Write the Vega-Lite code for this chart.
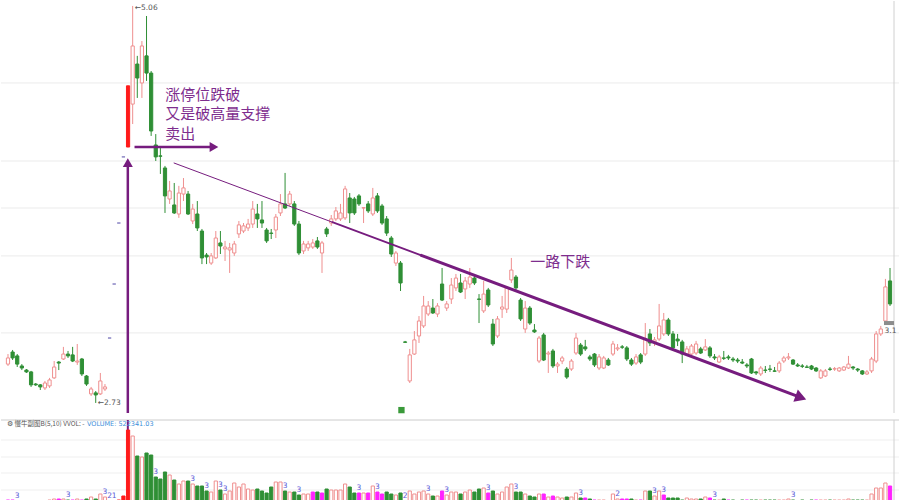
{
"$schema":"https://vega.github.io/schema/vega-lite/v6.json",
"padding":0,"spacing":4,"background":"white",
"config":{"view":{"stroke":null},"axis":{"disable":true},"font":"Noto Sans CJK SC"},
"datasets":{
"one":[{}],
"grid":[{"p":4.608},{"p":4.150},{"p":3.874},{"p":3.593},{"p":3.141}],
"vgrid":[{"v":63},{"v":46},{"v":30},{"v":13}],
"k":[
{"i":0,"o":2.958,"h":3.017,"l":2.947,"c":2.994,"v":3,"m":1},
{"i":1,"o":3.029,"h":3.041,"l":2.982,"c":2.994,"v":3,"m":1},
{"i":2,"o":3.006,"h":3.017,"l":2.941,"c":2.958,"v":2,"lb":"3"},
{"i":3,"o":2.947,"h":2.958,"l":2.923,"c":2.935,"v":2},
{"i":4,"o":2.923,"h":2.929,"l":2.906,"c":2.912,"v":2,"m":1},
{"i":5,"o":2.912,"h":2.918,"l":2.824,"c":2.836,"v":2,"m":1},
{"i":6,"o":2.841,"h":2.847,"l":2.830,"c":2.836,"v":1.5},
{"i":7,"o":2.836,"h":2.841,"l":2.806,"c":2.824,"v":1.5},
{"i":8,"o":2.818,"h":2.859,"l":2.806,"c":2.847,"v":1.5},
{"i":9,"o":2.830,"h":2.877,"l":2.818,"c":2.865,"v":3},
{"i":10,"o":2.877,"h":2.976,"l":2.871,"c":2.941,"v":4},
{"i":11,"o":2.970,"h":2.976,"l":2.923,"c":2.964,"v":4,"m":1},
{"i":12,"o":2.988,"h":3.059,"l":2.982,"c":3.017,"v":4},
{"i":13,"o":3.017,"h":3.035,"l":2.994,"c":3.006,"v":3,"lb":"3"},
{"i":14,"o":3.012,"h":3.059,"l":2.970,"c":2.976,"v":3,"m":1},
{"i":15,"o":2.970,"h":3.076,"l":2.953,"c":2.976,"v":4},
{"i":16,"o":2.988,"h":2.994,"l":2.888,"c":2.900,"v":3,"m":1},
{"i":17,"o":2.888,"h":2.894,"l":2.830,"c":2.841,"v":4},
{"i":18,"o":2.783,"h":2.824,"l":2.771,"c":2.812,"v":6},
{"i":19,"o":2.789,"h":2.800,"l":2.730,"c":2.777,"v":4},
{"i":20,"o":2.783,"h":2.906,"l":2.777,"c":2.859,"v":9},
{"i":21,"o":2.812,"h":2.841,"l":2.800,"c":2.824,"v":6,"lb":"3"},
{"i":22,"o":3.111,"h":3.111,"l":3.111,"c":3.111,"v":2,"lb":"2","lu":1},
{"i":23,"o":3.428,"h":3.428,"l":3.428,"c":3.428,"v":2,"lb":"1","lu":1},
{"i":24,"o":3.786,"h":3.786,"l":3.786,"c":3.786,"v":3,"lu":1},
{"i":25,"o":4.174,"h":4.174,"l":4.174,"c":4.174,"v":7,"lu":1},
{"i":26,"o":4.232,"h":4.591,"l":4.232,"c":4.591,"v":73,"lu":1},
{"i":27,"o":4.484,"h":5.060,"l":4.367,"c":4.825,"v":67},
{"i":28,"o":4.719,"h":4.767,"l":4.520,"c":4.637,"v":47},
{"i":29,"o":4.608,"h":4.854,"l":4.520,"c":4.825,"v":46},
{"i":30,"o":4.767,"h":5.001,"l":4.620,"c":4.666,"v":50},
{"i":31,"o":4.666,"h":4.678,"l":4.297,"c":4.326,"v":48},
{"i":32,"o":4.244,"h":4.308,"l":4.150,"c":4.174,"v":26,"lb":"3"},
{"i":33,"o":4.180,"h":4.226,"l":4.074,"c":4.178,"v":24},
{"i":34,"o":4.109,"h":4.121,"l":3.845,"c":3.945,"v":31},
{"i":35,"o":3.927,"h":4.033,"l":3.898,"c":3.974,"v":28},
{"i":36,"o":3.892,"h":4.021,"l":3.839,"c":3.845,"v":23},
{"i":37,"o":3.839,"h":4.004,"l":3.816,"c":3.962,"v":19},
{"i":38,"o":3.956,"h":4.050,"l":3.915,"c":3.992,"v":22},
{"i":39,"o":3.956,"h":3.974,"l":3.833,"c":3.839,"v":22},
{"i":40,"o":3.798,"h":3.898,"l":3.780,"c":3.868,"v":19,"lb":"3"},
{"i":41,"o":3.839,"h":3.915,"l":3.739,"c":3.757,"v":17},
{"i":42,"o":3.739,"h":3.751,"l":3.545,"c":3.581,"v":17},
{"i":43,"o":3.598,"h":3.610,"l":3.545,"c":3.587,"v":12,"lb":"3"},
{"i":44,"o":3.551,"h":3.610,"l":3.540,"c":3.593,"v":11},
{"i":45,"o":3.581,"h":3.739,"l":3.575,"c":3.698,"v":22},
{"i":46,"o":3.669,"h":3.739,"l":3.604,"c":3.651,"v":13,"lb":"3"},
{"i":47,"o":3.634,"h":3.681,"l":3.563,"c":3.645,"v":9,"lb":"3"},
{"i":48,"o":3.628,"h":3.669,"l":3.493,"c":3.640,"v":12},
{"i":49,"o":3.610,"h":3.681,"l":3.593,"c":3.663,"v":20},
{"i":50,"o":3.722,"h":3.798,"l":3.698,"c":3.775,"v":16},
{"i":51,"o":3.739,"h":3.786,"l":3.727,"c":3.769,"v":19},
{"i":52,"o":3.757,"h":3.810,"l":3.739,"c":3.780,"v":14},
{"i":53,"o":3.780,"h":3.915,"l":3.757,"c":3.868,"v":13},
{"i":54,"o":3.839,"h":3.898,"l":3.757,"c":3.810,"v":14},
{"i":55,"o":3.804,"h":3.915,"l":3.757,"c":3.786,"v":12},
{"i":56,"o":3.745,"h":3.757,"l":3.669,"c":3.681,"v":10},
{"i":57,"o":3.727,"h":3.751,"l":3.692,"c":3.725,"v":16},
{"i":58,"o":3.745,"h":3.839,"l":3.698,"c":3.821,"v":21},
{"i":59,"o":3.845,"h":3.956,"l":3.827,"c":3.898,"v":21},
{"i":60,"o":3.898,"h":4.080,"l":3.868,"c":3.874,"v":12,"lb":"3"},
{"i":61,"o":3.898,"h":3.974,"l":3.886,"c":3.956,"v":11},
{"i":62,"o":3.898,"h":3.915,"l":3.769,"c":3.780,"v":11},
{"i":63,"o":3.780,"h":3.798,"l":3.598,"c":3.610,"v":8,"lb":"3"},
{"i":64,"o":3.622,"h":3.681,"l":3.604,"c":3.663,"v":9},
{"i":65,"o":3.640,"h":3.681,"l":3.622,"c":3.663,"v":9},
{"i":66,"o":3.645,"h":3.692,"l":3.634,"c":3.669,"v":11,"m":1},
{"i":67,"o":3.681,"h":3.704,"l":3.634,"c":3.645,"v":11},
{"i":68,"o":3.610,"h":3.681,"l":3.493,"c":3.669,"v":10,"m":1},
{"i":69,"o":3.751,"h":3.763,"l":3.704,"c":3.722,"v":14},
{"i":70,"o":3.786,"h":3.833,"l":3.769,"c":3.810,"v":13},
{"i":71,"o":3.810,"h":3.880,"l":3.798,"c":3.857,"v":13},
{"i":72,"o":3.810,"h":3.898,"l":3.798,"c":3.845,"v":13},
{"i":73,"o":3.816,"h":4.004,"l":3.804,"c":3.986,"v":19},
{"i":74,"o":3.933,"h":3.962,"l":3.786,"c":3.845,"v":16},
{"i":75,"o":3.927,"h":3.939,"l":3.833,"c":3.845,"v":10},
{"i":76,"o":3.945,"h":3.956,"l":3.886,"c":3.898,"v":10,"m":1,"lb":"3"},
{"i":77,"o":3.874,"h":3.880,"l":3.786,"c":3.876,"v":10},
{"i":78,"o":3.898,"h":3.915,"l":3.845,"c":3.857,"v":10,"m":1},
{"i":79,"o":3.839,"h":3.992,"l":3.827,"c":3.933,"v":17},
{"i":80,"o":3.945,"h":3.962,"l":3.845,"c":3.857,"v":11,"m":1,"lb":"3"},
{"i":81,"o":3.886,"h":3.898,"l":3.775,"c":3.786,"v":9,"m":1},
{"i":82,"o":3.810,"h":3.827,"l":3.710,"c":3.727,"v":11},
{"i":83,"o":3.698,"h":3.710,"l":3.587,"c":3.604,"v":9},
{"i":84,"o":3.551,"h":3.622,"l":3.534,"c":3.610,"v":8},
{"i":85,"o":3.551,"h":3.563,"l":3.387,"c":3.434,"v":10},
{"i":86,"o":3.088,"h":3.094,"l":3.082,"c":3.086,"v":2,"lb":"2"},
{"i":87,"o":2.859,"h":3.047,"l":2.847,"c":3.012,"v":12},
{"i":88,"o":3.017,"h":3.152,"l":3.012,"c":3.100,"v":9},
{"i":89,"o":3.123,"h":3.240,"l":3.082,"c":3.211,"v":11},
{"i":90,"o":3.182,"h":3.358,"l":3.170,"c":3.299,"v":12},
{"i":91,"o":3.252,"h":3.328,"l":3.240,"c":3.299,"v":9,"lb":"3"},
{"i":92,"o":3.287,"h":3.340,"l":3.252,"c":3.258,"v":7},
{"i":93,"o":3.252,"h":3.316,"l":3.234,"c":3.299,"v":7},
{"i":94,"o":3.428,"h":3.522,"l":3.328,"c":3.334,"v":12,"m":1},
{"i":95,"o":3.287,"h":3.328,"l":3.270,"c":3.311,"v":8,"lb":"3"},
{"i":96,"o":3.340,"h":3.463,"l":3.311,"c":3.422,"v":11},
{"i":97,"o":3.405,"h":3.487,"l":3.387,"c":3.463,"v":11},
{"i":98,"o":3.434,"h":3.487,"l":3.375,"c":3.381,"v":9},
{"i":99,"o":3.399,"h":3.469,"l":3.340,"c":3.446,"v":11},
{"i":100,"o":3.428,"h":3.522,"l":3.405,"c":3.469,"v":13},
{"i":101,"o":3.463,"h":3.481,"l":3.422,"c":3.434,"v":11},
{"i":102,"o":3.340,"h":3.369,"l":3.199,"c":3.338,"v":14},
{"i":103,"o":3.270,"h":3.446,"l":3.258,"c":3.369,"v":15},
{"i":104,"o":3.393,"h":3.405,"l":3.293,"c":3.305,"v":10,"m":1,"lb":"3"},
{"i":105,"o":3.193,"h":3.223,"l":3.064,"c":3.076,"v":12},
{"i":106,"o":3.123,"h":3.240,"l":3.111,"c":3.223,"v":9},
{"i":107,"o":3.281,"h":3.358,"l":3.229,"c":3.293,"v":11},
{"i":108,"o":3.281,"h":3.416,"l":3.258,"c":3.405,"v":16},
{"i":109,"o":3.452,"h":3.581,"l":3.434,"c":3.510,"v":19},
{"i":110,"o":3.469,"h":3.481,"l":3.393,"c":3.405,"v":11,"lb":"3"},
{"i":111,"o":3.334,"h":3.346,"l":3.211,"c":3.223,"v":11},
{"i":112,"o":3.164,"h":3.328,"l":3.141,"c":3.287,"v":9},
{"i":113,"o":3.287,"h":3.299,"l":3.188,"c":3.199,"v":7},
{"i":114,"o":3.158,"h":3.193,"l":3.141,"c":3.147,"v":6},
{"i":115,"o":2.976,"h":3.123,"l":2.964,"c":3.111,"v":9},
{"i":116,"o":3.129,"h":3.141,"l":2.976,"c":2.982,"v":9,"m":1},
{"i":117,"o":3.017,"h":3.035,"l":2.906,"c":3.023,"v":6},
{"i":118,"o":3.035,"h":3.047,"l":2.935,"c":2.947,"v":7,"m":1},
{"i":119,"o":2.947,"h":2.970,"l":2.906,"c":2.958,"v":6},
{"i":120,"o":2.976,"h":3.006,"l":2.958,"c":2.994,"v":5},
{"i":121,"o":2.929,"h":2.941,"l":2.871,"c":2.882,"v":6},
{"i":122,"o":2.929,"h":2.988,"l":2.918,"c":2.976,"v":6},
{"i":123,"o":3.023,"h":3.141,"l":3.012,"c":3.111,"v":10},
{"i":124,"o":3.070,"h":3.082,"l":3.006,"c":3.017,"v":5,"lb":"3"},
{"i":125,"o":3.059,"h":3.100,"l":3.035,"c":3.047,"v":5,"m":1},
{"i":126,"o":3.000,"h":3.012,"l":2.976,"c":2.988,"v":4},
{"i":127,"o":3.017,"h":3.023,"l":2.941,"c":2.953,"v":3,"m":1},
{"i":128,"o":2.935,"h":3.017,"l":2.923,"c":3.000,"v":3},
{"i":129,"o":2.935,"h":3.006,"l":2.929,"c":2.994,"v":3},
{"i":130,"o":2.982,"h":2.994,"l":2.947,"c":2.953,"v":2},
{"i":131,"o":3.017,"h":3.094,"l":3.006,"c":3.076,"v":9},
{"i":132,"o":3.047,"h":3.076,"l":3.035,"c":3.053,"v":4,"lb":"2"},
{"i":133,"o":3.059,"h":3.070,"l":3.047,"c":3.057,"v":4,"m":1},
{"i":134,"o":3.053,"h":3.064,"l":2.976,"c":2.988,"v":4,"m":1},
{"i":135,"o":2.982,"h":2.994,"l":2.947,"c":2.958,"v":4},
{"i":136,"o":2.964,"h":3.017,"l":2.953,"c":3.000,"v":3},
{"i":137,"o":3.012,"h":3.023,"l":2.958,"c":2.970,"v":3,"m":1},
{"i":138,"o":3.017,"h":3.199,"l":3.006,"c":3.105,"v":12},
{"i":139,"o":3.135,"h":3.164,"l":3.064,"c":3.082,"v":12},
{"i":140,"o":3.088,"h":3.117,"l":3.064,"c":3.100,"v":7,"lb":"3"},
{"i":141,"o":3.105,"h":3.311,"l":3.094,"c":3.182,"v":12},
{"i":142,"o":3.135,"h":3.258,"l":3.123,"c":3.217,"v":8,"m":1,"lb":"3"},
{"i":143,"o":3.217,"h":3.229,"l":3.123,"c":3.135,"v":5},
{"i":144,"o":3.135,"h":3.152,"l":3.035,"c":3.053,"v":5},
{"i":145,"o":3.105,"h":3.135,"l":3.064,"c":3.094,"v":5},
{"i":146,"o":3.088,"h":3.100,"l":2.964,"c":3.017,"v":3},
{"i":147,"o":3.017,"h":3.064,"l":3.006,"c":3.047,"v":5},
{"i":148,"o":3.017,"h":3.076,"l":3.006,"c":3.064,"v":4},
{"i":149,"o":3.023,"h":3.094,"l":3.012,"c":3.076,"v":4},
{"i":150,"o":3.047,"h":3.059,"l":3.017,"c":3.023,"v":4},
{"i":151,"o":3.041,"h":3.105,"l":3.035,"c":3.059,"v":6},
{"i":152,"o":3.053,"h":3.064,"l":2.994,"c":3.006,"v":5,"m":1},
{"i":153,"o":3.000,"h":3.017,"l":2.982,"c":2.994,"v":3,"lb":"3"},
{"i":154,"o":2.970,"h":3.012,"l":2.964,"c":3.000,"v":3},
{"i":155,"o":2.994,"h":3.035,"l":2.982,"c":2.992,"v":4},
{"i":156,"o":3.000,"h":3.012,"l":2.982,"c":2.994,"v":3,"m":1},
{"i":157,"o":2.988,"h":3.000,"l":2.970,"c":2.982,"v":3},
{"i":158,"o":2.982,"h":2.994,"l":2.964,"c":2.976,"v":2,"m":1},
{"i":159,"o":2.970,"h":2.988,"l":2.958,"c":2.964,"v":3},
{"i":160,"o":2.953,"h":2.964,"l":2.935,"c":2.947,"v":3,"m":1},
{"i":161,"o":2.988,"h":2.994,"l":2.900,"c":2.906,"v":3},
{"i":162,"o":2.912,"h":2.918,"l":2.894,"c":2.906,"v":3},
{"i":163,"o":2.900,"h":2.947,"l":2.888,"c":2.935,"v":3},
{"i":164,"o":2.923,"h":2.947,"l":2.906,"c":2.921,"v":3},
{"i":165,"o":2.929,"h":2.953,"l":2.912,"c":2.927,"v":3},
{"i":166,"o":2.918,"h":2.941,"l":2.912,"c":2.916,"v":3},
{"i":167,"o":2.918,"h":2.976,"l":2.906,"c":2.964,"v":3},
{"i":168,"o":2.976,"h":3.006,"l":2.964,"c":2.994,"v":3},
{"i":169,"o":2.994,"h":3.023,"l":2.982,"c":3.000,"v":4},
{"i":170,"o":2.982,"h":2.988,"l":2.953,"c":2.958,"v":3,"lb":"3"},
{"i":171,"o":2.953,"h":2.964,"l":2.941,"c":2.947,"v":2,"m":1},
{"i":172,"o":2.947,"h":2.958,"l":2.935,"c":2.945,"v":3},
{"i":173,"o":2.941,"h":2.953,"l":2.935,"c":2.939,"v":2,"m":1},
{"i":174,"o":2.947,"h":2.953,"l":2.923,"c":2.929,"v":3},
{"i":175,"o":2.935,"h":2.941,"l":2.912,"c":2.918,"v":3,"m":1},
{"i":176,"o":2.877,"h":2.929,"l":2.871,"c":2.918,"v":3},
{"i":177,"o":2.888,"h":2.929,"l":2.882,"c":2.918,"v":3},
{"i":178,"o":2.929,"h":2.941,"l":2.918,"c":2.927,"v":3},
{"i":179,"o":2.929,"h":2.941,"l":2.918,"c":2.931,"v":3},
{"i":180,"o":2.918,"h":2.941,"l":2.912,"c":2.935,"v":3},
{"i":181,"o":2.923,"h":2.947,"l":2.918,"c":2.941,"v":3},
{"i":182,"o":2.935,"h":3.006,"l":2.929,"c":2.958,"v":4},
{"i":183,"o":2.941,"h":2.947,"l":2.923,"c":2.935,"v":3},
{"i":184,"o":2.929,"h":2.935,"l":2.912,"c":2.923,"v":3},
{"i":185,"o":2.918,"h":2.923,"l":2.894,"c":2.900,"v":3},
{"i":186,"o":2.900,"h":2.923,"l":2.894,"c":2.912,"v":3},
{"i":187,"o":2.918,"h":3.000,"l":2.906,"c":2.988,"v":9},
{"i":188,"o":2.976,"h":3.152,"l":2.964,"c":3.135,"v":15},
{"i":189,"o":3.135,"h":3.182,"l":3.123,"c":3.164,"v":15},
{"i":190,"o":3.211,"h":3.458,"l":3.199,"c":3.411,"v":20},
{"i":191,"o":3.446,"h":3.522,"l":3.299,"c":3.311,"v":17,"m":1}
]},
"vconcat":[
{"width":898,"height":412,
"layer":[
{"data":{"name":"grid"},"mark":{"type":"rule","color":"#ebebeb","strokeWidth":1},
 "encoding":{"y":{"field":"p","type":"quantitative","scale":{"domain":[2.671,5.089],"nice":false,"zero":false}}}},
{"data":{"name":"one"},"mark":{"type":"rule","color":"#d0d0d0","strokeWidth":1},
 "encoding":{"x":{"datum":191.86,"type":"quantitative","scale":{"domain":[-0.43,191.86],"nice":false,"zero":false}}}},
{"data":{"name":"k"},"mark":{"type":"rule","strokeWidth":1},
 "encoding":{"x":{"field":"i","type":"quantitative","scale":{"domain":[-0.43,191.86],"nice":false,"zero":false}},
  "y":{"field":"l","type":"quantitative","scale":{"domain":[2.671,5.089],"nice":false,"zero":false}},"y2":{"field":"h"},
  "stroke":{"condition":[{"test":"datum.h==datum.l","value":"#8a84c4"},{"test":"datum.lu","value":"#ff1a1a"},{"test":"datum.c<datum.o","value":"#2f8f35"}],"value":"#ef8f8f"}}},
{"data":{"name":"k"},"mark":{"type":"bar","width":3.2,"strokeWidth":1},
 "encoding":{"x":{"field":"i","type":"quantitative","scale":{"domain":[-0.43,191.86],"nice":false,"zero":false}},
  "y":{"field":"o","type":"quantitative","scale":{"domain":[2.671,5.089],"nice":false,"zero":false}},"y2":{"field":"c"},
  "fill":{"condition":[{"test":"datum.h==datum.l","value":"#8a84c4"},{"test":"datum.lu","value":"#ff1a1a"},{"test":"datum.c<datum.o","value":"#2f8f35"}],"value":"#ffffff"},
  "stroke":{"condition":[{"test":"datum.h==datum.l","value":"#8a84c4"},{"test":"datum.lu","value":"#ff1a1a"},{"test":"datum.c<datum.o","value":"#2f8f35"}],"value":"#ef8f8f"}}},
{"data":{"name":"one"},"mark":{"type":"rule","color":"#761c7e","strokeWidth":1,"strokeCap":"round"},
 "encoding":{"x":{"datum":35.97,"type":"quantitative","scale":{"domain":[-0.43,191.86],"nice":false,"zero":false}},"x2":{"datum":70.24},
  "y":{"datum":4.138,"type":"quantitative","scale":{"domain":[2.671,5.089],"nice":false,"zero":false}},"y2":{"datum":3.791}}},
{"data":{"name":"one"},"mark":{"type":"rule","color":"#761c7e","strokeWidth":1.8,"strokeCap":"round"},
 "encoding":{"x":{"datum":70.24,"type":"quantitative","scale":{"domain":[-0.43,191.86],"nice":false,"zero":false}},"x2":{"datum":89.5},
  "y":{"datum":3.791,"type":"quantitative","scale":{"domain":[2.671,5.089],"nice":false,"zero":false}},"y2":{"datum":3.596}}},
{"data":{"name":"one"},"mark":{"type":"rule","color":"#761c7e","strokeWidth":3,"strokeCap":"round"},
 "encoding":{"x":{"datum":89.5,"type":"quantitative","scale":{"domain":[-0.43,191.86],"nice":false,"zero":false}},"x2":{"datum":170.6},
  "y":{"datum":3.596,"type":"quantitative","scale":{"domain":[2.671,5.089],"nice":false,"zero":false}},"y2":{"datum":2.773}}},
{"data":{"name":"one"},"mark":{"type":"point","shape":"triangle-right","angle":20,"filled":true,"size":170,"color":"#761c7e","opacity":1},
 "encoding":{"x":{"datum":171.7,"type":"quantitative","scale":{"domain":[-0.43,191.86],"nice":false,"zero":false}},
  "y":{"datum":2.762,"type":"quantitative","scale":{"domain":[2.671,5.089],"nice":false,"zero":false}}}},
{"data":{"name":"one"},"mark":{"type":"rule","color":"#761c7e","strokeWidth":2.5},
 "encoding":{"x":{"datum":27.4,"type":"quantitative","scale":{"domain":[-0.43,191.86],"nice":false,"zero":false}},"x2":{"datum":44.0},
  "y":{"datum":4.232,"type":"quantitative","scale":{"domain":[2.671,5.089],"nice":false,"zero":false}}}},
{"data":{"name":"one"},"mark":{"type":"point","shape":"triangle-right","filled":true,"size":100,"color":"#761c7e","opacity":1},
 "encoding":{"x":{"datum":44.6,"type":"quantitative","scale":{"domain":[-0.43,191.86],"nice":false,"zero":false}},
  "y":{"datum":4.232,"type":"quantitative","scale":{"domain":[2.671,5.089],"nice":false,"zero":false}}}},
{"data":{"name":"one"},"mark":{"type":"rule","color":"#761c7e","strokeWidth":2.5},
 "encoding":{"x":{"datum":25.95,"type":"quantitative","scale":{"domain":[-0.43,191.86],"nice":false,"zero":false}},
  "y":{"datum":2.671,"type":"quantitative","scale":{"domain":[2.671,5.089],"nice":false,"zero":false}},"y2":{"datum":4.130}}},
{"data":{"name":"one"},"mark":{"type":"point","shape":"triangle-up","filled":true,"size":100,"color":"#761c7e","opacity":1},
 "encoding":{"x":{"datum":25.95,"type":"quantitative","scale":{"domain":[-0.43,191.86],"nice":false,"zero":false}},
  "y":{"datum":4.140,"type":"quantitative","scale":{"domain":[2.671,5.089],"nice":false,"zero":false}}}},
{"data":{"name":"one"},"mark":{"type":"text","align":"left","baseline":"middle","fontSize":15,"font":"Noto Sans CJK SC","color":"#7e2d8e","text":"涨停位跌破"},
 "encoding":{"x":{"datum":34.05,"type":"quantitative","scale":{"domain":[-0.43,191.86],"nice":false,"zero":false}},
  "y":{"datum":4.537,"type":"quantitative","scale":{"domain":[2.671,5.089],"nice":false,"zero":false}}}},
{"data":{"name":"one"},"mark":{"type":"text","align":"left","baseline":"middle","fontSize":15,"font":"Noto Sans CJK SC","color":"#7e2d8e","text":"又是破高量支撑"},
 "encoding":{"x":{"datum":34.05,"type":"quantitative","scale":{"domain":[-0.43,191.86],"nice":false,"zero":false}},
  "y":{"datum":4.423,"type":"quantitative","scale":{"domain":[2.671,5.089],"nice":false,"zero":false}}}},
{"data":{"name":"one"},"mark":{"type":"text","align":"left","baseline":"middle","fontSize":15,"font":"Noto Sans CJK SC","color":"#7e2d8e","text":"卖出"},
 "encoding":{"x":{"datum":34.05,"type":"quantitative","scale":{"domain":[-0.43,191.86],"nice":false,"zero":false}},
  "y":{"datum":4.308,"type":"quantitative","scale":{"domain":[2.671,5.089],"nice":false,"zero":false}}}},
{"data":{"name":"one"},"mark":{"type":"text","align":"left","baseline":"middle","fontSize":15,"font":"Noto Sans CJK SC","color":"#7e2d8e","text":"一路下跌"},
 "encoding":{"x":{"datum":113.1,"type":"quantitative","scale":{"domain":[-0.43,191.86],"nice":false,"zero":false}},
  "y":{"datum":3.557,"type":"quantitative","scale":{"domain":[2.671,5.089],"nice":false,"zero":false}}}},
{"data":{"name":"one"},"mark":{"type":"text","align":"left","baseline":"middle","fontSize":7.5,"font":"DejaVu Sans","color":"#555555","text":"←5.06","dx":2,"dy":2},
 "encoding":{"x":{"datum":27,"type":"quantitative","scale":{"domain":[-0.43,191.86],"nice":false,"zero":false}},
  "y":{"datum":5.060,"type":"quantitative","scale":{"domain":[2.671,5.089],"nice":false,"zero":false}}}},
{"data":{"name":"one"},"mark":{"type":"text","align":"left","baseline":"middle","fontSize":7.5,"font":"DejaVu Sans","color":"#555555","text":"←2.73","dx":2},
 "encoding":{"x":{"datum":19,"type":"quantitative","scale":{"domain":[-0.43,191.86],"nice":false,"zero":false}},
  "y":{"datum":2.730,"type":"quantitative","scale":{"domain":[2.671,5.089],"nice":false,"zero":false}}}},
{"data":{"name":"one"},"mark":{"type":"rule","color":"#8c8c8c","strokeWidth":4},
 "encoding":{"x":{"datum":189.7,"type":"quantitative","scale":{"domain":[-0.43,191.86],"nice":false,"zero":false}},"x2":{"datum":191.86},
  "y":{"datum":3.199,"type":"quantitative","scale":{"domain":[2.671,5.089],"nice":false,"zero":false}}}},
{"data":{"name":"one"},"mark":{"type":"text","align":"left","baseline":"middle","fontSize":7.5,"font":"DejaVu Sans","color":"#555555","text":"3.1"},
 "encoding":{"x":{"datum":189.8,"type":"quantitative","scale":{"domain":[-0.43,191.86],"nice":false,"zero":false}},
  "y":{"datum":3.152,"type":"quantitative","scale":{"domain":[2.671,5.089],"nice":false,"zero":false}}}},
{"data":{"name":"one"},"mark":{"type":"point","shape":"square","filled":true,"size":40,"color":"#3a9a3a","opacity":1},
 "encoding":{"x":{"datum":85.2,"type":"quantitative","scale":{"domain":[-0.43,191.86],"nice":false,"zero":false}},
  "y":{"datum":2.688,"type":"quantitative","scale":{"domain":[2.671,5.089],"nice":false,"zero":false}}}}
]},
{"width":898,"height":83,
"layer":[
{"data":{"name":"vgrid"},"mark":{"type":"rule","color":"#efefef","strokeWidth":1},
 "encoding":{"y":{"field":"v","type":"quantitative","scale":{"domain":[0,83],"nice":false,"zero":true}}}},
{"data":{"name":"one"},"mark":{"type":"rule","color":"#cccccc","strokeWidth":1},
 "encoding":{"y":{"datum":83,"type":"quantitative","scale":{"domain":[0,83],"nice":false,"zero":true}}}},
{"data":{"name":"one"},"mark":{"type":"rule","color":"#d0d0d0","strokeWidth":1},
 "encoding":{"x":{"datum":191.86,"type":"quantitative","scale":{"domain":[-0.43,191.86],"nice":false,"zero":false}}}},
{"data":{"name":"one"},"mark":{"type":"rule","color":"#761c7e","strokeWidth":2},
 "encoding":{"x":{"datum":25.95,"type":"quantitative","scale":{"domain":[-0.43,191.86],"nice":false,"zero":false}},
  "y":{"datum":72,"type":"quantitative","scale":{"domain":[0,83],"nice":false,"zero":true}},"y2":{"datum":83}}},
{"data":{"name":"k"},"mark":{"type":"bar","width":3.2,"strokeWidth":1},
 "encoding":{"x":{"field":"i","type":"quantitative","scale":{"domain":[-0.43,191.86],"nice":false,"zero":false}},
  "y":{"field":"v","type":"quantitative","scale":{"domain":[0,83],"nice":false,"zero":true}},
  "fill":{"condition":[{"test":"datum.lu","value":"#ff1a1a"},{"test":"datum.m","value":"#ff22ff"},{"test":"datum.c<datum.o","value":"#2f8f35"}],"value":"#ffffff"},
  "stroke":{"condition":[{"test":"datum.lu","value":"#ff1a1a"},{"test":"datum.m","value":"#ff22ff"},{"test":"datum.c<datum.o","value":"#2f8f35"}],"value":"#ef8f8f"}}},
{"data":{"name":"k"},"transform":[{"filter":"datum.lb"}],
 "mark":{"type":"text","baseline":"bottom","fontSize":7.5,"font":"DejaVu Sans","color":"#5a5ad8","dy":-1},
 "encoding":{"x":{"field":"i","type":"quantitative","scale":{"domain":[-0.43,191.86],"nice":false,"zero":false}},
  "y":{"field":"v","type":"quantitative","scale":{"domain":[0,83],"nice":false,"zero":true}},"text":{"field":"lb"}}},
{"data":{"name":"one"},"mark":{"type":"text","align":"left","baseline":"middle","fontSize":6.5,"font":"Noto Sans CJK SC","color":"#555555","text":"⚙ 慢牛副图B(5,10)  VVOL: -","dx":1},
 "encoding":{"x":{"datum":-0.43,"type":"quantitative","scale":{"domain":[-0.43,191.86],"nice":false,"zero":false}},
  "y":{"datum":79,"type":"quantitative","scale":{"domain":[0,83],"nice":false,"zero":true}}}},
{"data":{"name":"one"},"mark":{"type":"text","align":"left","baseline":"middle","fontSize":6.5,"font":"DejaVu Sans","color":"#3d8fd9","text":"VOLUME: 522341.03"},
 "encoding":{"x":{"datum":17.1,"type":"quantitative","scale":{"domain":[-0.43,191.86],"nice":false,"zero":false}},
  "y":{"datum":79,"type":"quantitative","scale":{"domain":[0,83],"nice":false,"zero":true}}}}
]}
]
}
